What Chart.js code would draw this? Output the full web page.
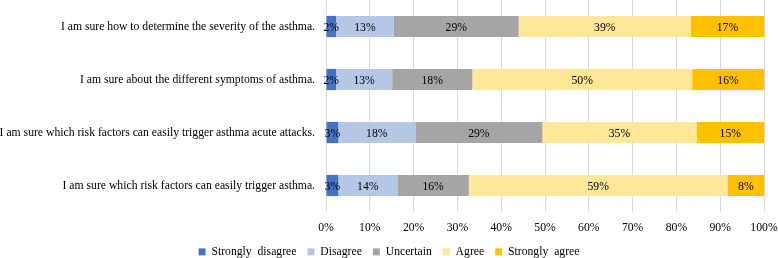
<!DOCTYPE html>
<html>
<head>
<meta charset="utf-8">
<script src="https://cdn.jsdelivr.net/npm/chart.js@4/dist/chart.umd.min.js"></script>
<style>
  html, body { margin: 0; padding: 0; background: #fff; }
  #wrap { width: 778px; height: 258px; }
</style>
</head>
<body>
<div id="wrap"><canvas id="chart"></canvas></div>
<script>
'use strict';

const statements = [
  'I am sure how to determine the severity of the asthma.',
  'I am sure about the different symptoms of asthma.',
  'I am sure which risk factors can easily trigger asthma acute attacks.',
  'I am sure which risk factors can easily trigger asthma.'
];

const responseLabels = ['Strongly  disagree', 'Disagree', 'Uncertain', 'Agree', 'Strongly  agree'];

const stronglyDisagree = [2.3, 2.3, 2.8, 2.8];
const disagree = [13.2, 12.8, 17.6, 13.5];
const uncertain = [28.5, 18.3, 29.0, 16.3];
const agree = [39.3, 50.2, 35.2, 59.1];
const stronglyAgree = [16.7, 16.4, 15.4, 8.3];

const xTicks = [0, 10, 20, 30, 40, 50, 60, 70, 80, 90, 100];

const colors = ['#4472c4', '#b4c7e7', '#a5a5a5', '#ffe699', '#ffc000'];
const FONT = '"Liberation Serif", "Times New Roman", serif';

const seriesValues = [stronglyDisagree, disagree, uncertain, agree, stronglyAgree];

// draw rounded percentage inside each segment
const barLabels = {
  id: 'barLabels',
  afterDatasetsDraw(chart) {
    const ctx = chart.ctx;
    ctx.save();
    ctx.font = `11.7px ${FONT}`;
    ctx.fillStyle = '#000';
    ctx.textAlign = 'center';
    ctx.textBaseline = 'middle';
    chart.data.datasets.forEach((ds, i) => {
      chart.getDatasetMeta(i).data.forEach((bar, j) => {
        const mid = (bar.x + bar.base) / 2;
        ctx.fillText(`${Math.round(ds.data[j])}%`, mid, bar.y + 1);
      });
    });
    ctx.restore();
  }
};

// legend padding is also the item gap; keep the gap but take less height
const legendHeight = {
  id: 'legendHeight',
  beforeLayout(chart) {
    const lg = chart.legend;
    if (lg && !lg._heightPatched) {
      const fit = lg.fit;
      lg.fit = function () {
        fit.call(this);
        this.height = 23;
      };
      lg._heightPatched = true;
    }
  }
};

new Chart(document.getElementById('chart'), {
  type: 'bar',
  data: {
    labels: statements,
    datasets: responseLabels.map((label, i) => ({
      label,
      data: seriesValues[i],
      backgroundColor: colors[i],
      borderWidth: 0,
      barPercentage: 0.4,
      categoryPercentage: 1
    }))
  },
  options: {
    indexAxis: 'y',
    responsive: true,
    maintainAspectRatio: false,
    animation: false,
    layout: { padding: 0 },
    plugins: {
      legend: {
        position: 'bottom',
        labels: {
          font: { family: FONT, size: 11.7 },
          color: '#000',
          boxWidth: 7,
          boxHeight: 7,
          padding: 11
        }
      },
      tooltip: { enabled: false }
    },
    scales: {
      x: {
        stacked: true,
        min: 0,
        max: 100,
        afterBuildTicks(scale) {
          scale.ticks = xTicks.map((value) => ({ value }));
        },
        afterFit(scale) {
          scale.height = 23;
          scale.paddingRight = 14;
          scale.paddingLeft = 0;
        },
        grid: { color: '#d9d9d9', drawTicks: false },
        border: { display: false },
        ticks: {
          padding: 9,
          color: '#000',
          font: { family: FONT, size: 11.7 },
          maxRotation: 0,
          callback(value) { return `${value}%`; }
        }
      },
      y: {
        stacked: true,
        grid: { display: false, tickLength: 11 },
        border: { display: false },
        afterFit(scale) {
          scale.width = 326;
          scale.paddingTop = 0;
          scale.paddingBottom = 0;
        },
        ticks: {
          padding: 0,
          color: '#000',
          font: { family: FONT, size: 11.7 }
        }
      }
    }
  },
  plugins: [barLabels, legendHeight]
});
</script>
</body>
</html>
